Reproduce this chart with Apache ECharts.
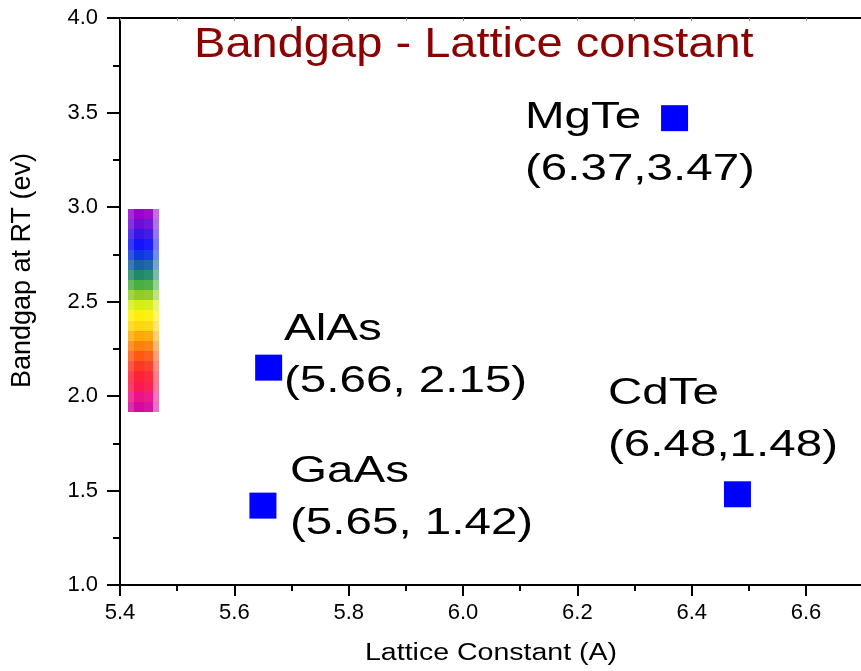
<!DOCTYPE html>
<html>
<head>
<meta charset="utf-8">
<script src="https://cdn.jsdelivr.net/npm/echarts@6/dist/echarts.min.js"></script>
<style>
html,body{margin:0;padding:0;background:#fff;}
#c{width:861px;height:671px;}
</style>
</head>
<body>
<div id="c"></div>
<script>
// ---- data ----
const materials = ['GaAs', 'AlAs', 'MgTe', 'CdTe'];
const latticeConst = [5.65, 5.66, 6.37, 6.48];
const bandgap = [1.42, 2.15, 3.47, 1.48];
const coordText = ['(5.65, 1.42)', '(5.66, 2.15)', '(6.37,3.47)', '(6.48,1.48)'];
// annotation anchors (data units): left edge / first-line centre
const labelAnchorX = [5.6974, 5.6869, 6.1084, 6.2536];
const labelAnchorY = [1.598, 2.349, 3.471, 2.011];
// visible-spectrum strip (bottom -> top)
const spectrumColors = ['#D40A9E', '#EE1288', '#F81A50', '#FC2238', '#FB3A22', '#FC5A14', '#FB800C', '#FDAA08', '#FFD410', '#FCF00A',
                        '#D6EE14', '#94CC22', '#4AAE40', '#208A68', '#1862A2', '#0C38E2', '#1414FC', '#3C14E4', '#6C0ED8', '#9804CA'];
const spectrumRange = [1.915, 2.99];
const spectrumColumns = [5.414, 5.4245, 5.442, 5.458, 5.468];
const xTickLabels = ['5.4', '5.6', '5.8', '6.0', '6.2', '6.4', '6.6'];
const yTickLabels = ['1.0', '1.5', '2.0', '2.5', '3.0', '3.5', '4.0'];

const FONT = '"Liberation Sans", Arial, sans-serif';

function mixWhite(hex, t) {
  const n = parseInt(hex.slice(1), 16);
  const r = (n >> 16) & 255, g = (n >> 8) & 255, b = n & 255;
  const m = c => Math.round(c + (255 - c) * t);
  return 'rgb(' + m(r) + ',' + m(g) + ',' + m(b) + ')';
}
const colTint = [0.15, 0, 0.04, 0.42];
const cells = [], cellColors = [];
const rows = spectrumColors.length;
const step = (spectrumRange[1] - spectrumRange[0]) / rows;
for (let r = 0; r < rows; r++) {
  for (let c = 0; c < spectrumColumns.length - 1; c++) {
    cells.push([spectrumColumns[c], spectrumColumns[c + 1], spectrumRange[0] + r * step, spectrumRange[0] + (r + 1) * step]);
    cellColors.push(mixWhite(spectrumColors[r], colTint[c]));
  }
}

const chart = echarts.init(document.getElementById('c'), null, {renderer: 'canvas'});
const axisLineStyle = {color: '#000', width: 2};

const option = {
  animation: false,
  backgroundColor: '#fff',
  grid: {left: 120, top: 18, width: 800.4, height: 567, outerBoundsMode: 'none', containLabel: false},
  xAxis: [{
    type: 'value', min: 5.4, max: 6.8, interval: 0.2, position: 'bottom',
    axisLine: {show: true, onZero: false, lineStyle: axisLineStyle},
    axisTick: {show: true, inside: false, length: 11, lineStyle: {color: '#000', width: 2}},
    minorTick: {show: true, splitNumber: 2, length: 6, lineStyle: {color: '#000', width: 2}},
    axisLabel: {show: true, fontSize: 22, color: '#000', fontFamily: FONT, margin: 17,
      formatter: v => { const s = v.toFixed(1); return xTickLabels.indexOf(s) >= 0 ? s : ''; }},
    splitLine: {show: false}
  }, {
    type: 'value', min: 5.4, max: 6.8, interval: 0.1, position: 'top',
    axisLine: {show: true, onZero: false, lineStyle: axisLineStyle},
    axisTick: {show: true, inside: true, length: 3, lineStyle: {color: '#888', width: 1}},
    axisLabel: {show: false},
    splitLine: {show: false}
  }],
  yAxis: {
    type: 'value', min: 1, max: 4, interval: 0.5,
    axisLine: {show: true, onZero: false, lineStyle: axisLineStyle},
    axisTick: {show: true, inside: false, length: 13, lineStyle: {color: '#000', width: 2}},
    minorTick: {show: true, splitNumber: 2, length: 7, lineStyle: {color: '#000', width: 2}},
    axisLabel: {show: true, fontSize: 22, color: '#000', fontFamily: FONT, margin: 22,
      formatter: v => { const s = v.toFixed(1); return yTickLabels.indexOf(s) >= 0 ? s : ''; }},
    splitLine: {show: false}
  },
  series: [{
    type: 'custom',
    name: 'spectrum',
    xAxisIndex: 0, yAxisIndex: 0,
    data: cells,
    encode: {x: [0, 1], y: [2, 3]},
    renderItem: function (params, api) {
      const p0 = api.coord([api.value(0), api.value(3)]);
      const p1 = api.coord([api.value(1), api.value(2)]);
      const x0 = Math.round(p0[0]), y0 = Math.round(p0[1]);
      const x1 = Math.round(p1[0]), y1 = Math.round(p1[1]);
      return {type: 'rect', shape: {x: x0, y: y0, width: x1 - x0, height: y1 - y0},
        style: {fill: cellColors[params.dataIndex]}};
    }
  }, {
    type: 'scatter',
    name: 'materials',
    xAxisIndex: 0, yAxisIndex: 0,
    symbol: 'rect',
    symbolSize: [27, 26],
    itemStyle: {color: '#0000FF', opacity: 1},
    data: latticeConst.map((x, i) => [x, bandgap[i]])
  }, {
    type: 'custom',
    name: 'labels',
    xAxisIndex: 0, yAxisIndex: 0,
    data: labelAnchorX.map((x, i) => [x, labelAnchorY[i]]),
    encode: {x: 0, y: 1},
    renderItem: function (params, api) {
      const i = params.dataIndex;
      const p = api.coord([api.value(0), api.value(1)]);
      const st = t => ({text: t, font: '37px ' + FONT, fill: '#000',
        align: 'left', verticalAlign: 'middle', textAlign: 'left', textVerticalAlign: 'middle'});
      return {type: 'group', children: [
        {type: 'text', x: p[0], y: p[1], scaleX: 1.285, style: st(materials[i])},
        {type: 'text', x: p[0], y: p[1] + 52, scaleX: 1.285, style: st(coordText[i])}
      ]};
    }
  }],
  graphic: [{
    type: 'text', x: 194, y: 45.5, scaleX: 1.12,
    style: {text: 'Bandgap - Lattice constant', font: '42px ' + FONT, fill: '#8B0000',
      align: 'left', verticalAlign: 'middle', textAlign: 'left', textVerticalAlign: 'middle'}
  }, {
    type: 'text', x: 491, y: 653.5, scaleX: 1.24,
    style: {text: 'Lattice Constant (A)', font: '23px ' + FONT, fill: '#000',
      align: 'center', verticalAlign: 'middle', textAlign: 'center', textVerticalAlign: 'middle'}
  }, {
    type: 'text', x: 23, y: 270.5, rotation: Math.PI / 2,
    style: {text: 'Bandgap at RT (ev)', font: '27px ' + FONT, fill: '#000',
      align: 'center', verticalAlign: 'middle', textAlign: 'center', textVerticalAlign: 'middle'}
  }]
};
chart.setOption(option);
</script>
</body>
</html>
